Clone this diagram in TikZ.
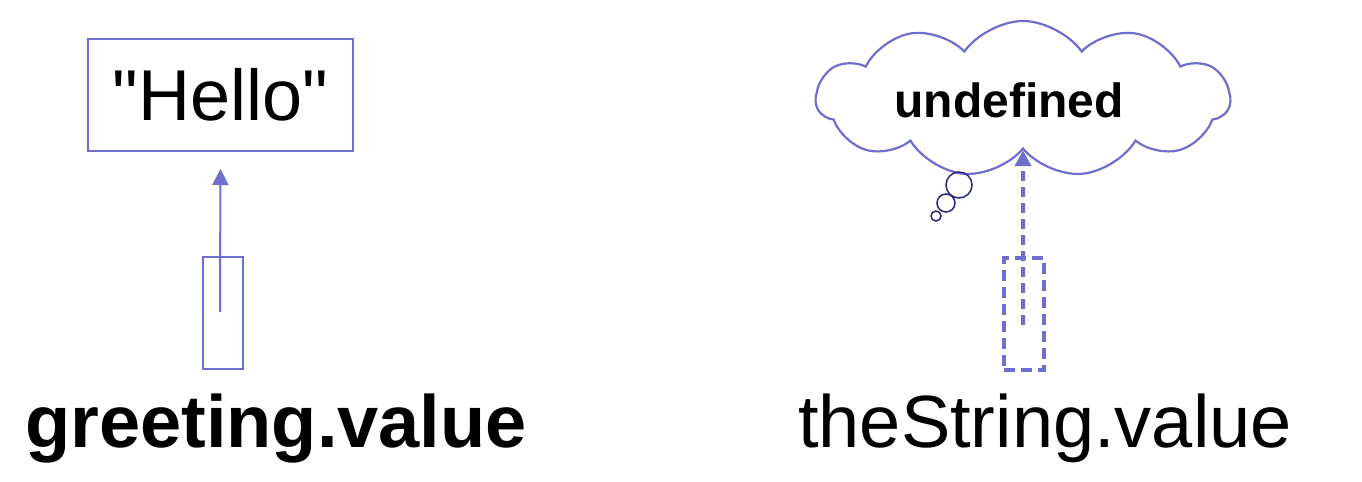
\documentclass[tikz,border=0pt]{standalone}
\usepackage{fontspec}
\setmainfont{Liberation Sans}[Ligatures=TeXOff]
\usetikzlibrary{arrows.meta,shapes.symbols}
\definecolor{refblue}{RGB}{110,110,204}
\definecolor{bubble}{RGB}{40,40,120}

\begin{document}
\begin{tikzpicture}[x=0.5pt,y=-0.5pt,
    tip/.style={-{Triangle[length=8pt,width=8pt]}},
    slot/.style={draw=refblue,minimum width=20pt,minimum height=56pt,inner sep=0pt}]
  \useasboundingbox (0,0) rectangle (1362,482);
  \draw
    (220.5,95) node[draw=refblue,line width=1pt,minimum width=132.5pt,minimum height=56pt,
      font=\fontsize{36}{40}\selectfont] (hello){"Hello"}
    (223,313) node[slot,line width=1pt] (gslot){}
    (1024,314) node[slot,line width=1.75pt,dash pattern=on 5.5pt off 3pt] (tslot){}
    (1023,99) node[cloud,draw=refblue,fill=white,line width=1.1pt,cloud puffs=11,cloud puff arc=110,
      minimum width=207pt,minimum height=78pt] (cloud){}
    (1009,117) node[anchor=base,font=\bfseries\fontsize{24}{28}\selectfont] (undef){undefined}
    (276,447) node[anchor=base,font=\bfseries\fontsize{37}{42}\selectfont] (glabel){greeting.value}
    (1045,447) node[anchor=base,font=\fontsize{37}{42}\selectfont] (tlabel){theString.value};
  \coordinate (gtail) at (220,312);
  \coordinate (ttail) at (1023,325);
  \begin{scope}[refblue]
    \draw[tip,line width=1pt,shorten >=8.5pt] (gtail) -- (hello.south);
    \draw[tip,line width=2pt,dash pattern=on 5pt off 3pt] (ttail) -- (cloud.south);
  \end{scope}
  \draw[bubble,line width=0.75pt] (959,185) circle[radius=6.5pt]
    (946,203) circle[radius=4.5pt] (936,216) circle[radius=2.5pt];
\end{tikzpicture}
\end{document}
